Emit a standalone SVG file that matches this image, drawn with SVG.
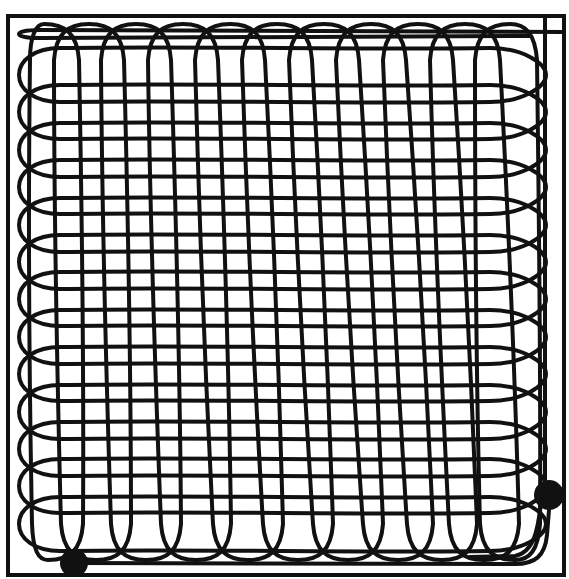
<svg xmlns="http://www.w3.org/2000/svg" xmlns:xlink="http://www.w3.org/1999/xlink" width="569" height="579" viewBox="0 0 569 579">
<style>
.w{fill:none;stroke:#111;stroke-width:4;stroke-linejoin:round;stroke-linecap:round}
.f{fill:none;stroke:#111;stroke-width:4}
.d{fill:#111}
</style>
<defs>
<path id="h" class="w" d="M19,0 C19,-15 35,-27 60,-27 C200,-29 360,-25 490,-27 C522,-27 546,-12 546,0 C546,12 522,27 490,27 C360,29 200,25 60,27 C35,27 19,15 19,0Z"/>
</defs>
<rect width="569" height="579" fill="#fff"/>
<g id="frame">
<rect class="f" x="8" y="16" width="556" height="559"/>
</g>
<g id="horizontal-coil">
<path class="w" d="M564,32 L40,30 C24,30 19,32 19,34 C19,36 24,38 40,38 L530,36"/>
<use href="#h" xlink:href="#h" y="75"/>
<use href="#h" xlink:href="#h" y="112"/>
<use href="#h" xlink:href="#h" y="150"/>
<use href="#h" xlink:href="#h" y="187"/>
<use href="#h" xlink:href="#h" y="225"/>
<use href="#h" xlink:href="#h" y="262"/>
<use href="#h" xlink:href="#h" y="299"/>
<use href="#h" xlink:href="#h" y="337"/>
<use href="#h" xlink:href="#h" y="374"/>
<use href="#h" xlink:href="#h" y="412"/>
<use href="#h" xlink:href="#h" y="449"/>
<use href="#h" xlink:href="#h" y="486"/>
<use href="#h" xlink:href="#h" y="524"/>
</g>
<g id="vertical-coil">
<path class="w" d="M44,24 C66,24 77,34 79,60 C82,215 84,370 83,524 C81,550 70,560 48,560 C38,560 33,550 32,524 C29,370 28,215 30,60 C30,36 36,24 44,24Z"/>
<path class="w" d="M89,24 C111,24 122,34 124,60 C128,215 131,370 131,524 C129,550 118,560 96,560 C74,560 63,550 61,524 C57,370 54,215 54,60 C56,34 67,24 89,24Z"/>
<path class="w" d="M136,24 C158,24 169,34 171,60 C176,215 180,370 181,524 C179,550 168,560 146,560 C124,560 113,550 111,524 C106,370 102,215 101,60 C103,34 114,24 136,24Z"/>
<path class="w" d="M183,24 C205,24 216,34 218,60 C224,215 229,370 231,524 C229,550 218,560 196,560 C174,560 163,550 161,524 C155,370 150,215 148,60 C150,34 161,24 183,24Z"/>
<path class="w" d="M230,24 C252,24 263,34 265,60 C273,215 279,370 283,524 C281,550 270,560 248,560 C226,560 215,550 213,524 C205,370 199,215 195,60 C197,34 208,24 230,24Z"/>
<path class="w" d="M277,24 C299,24 310,34 312,60 C321,215 328,370 333,524 C331,550 320,560 298,560 C276,560 265,550 263,524 C254,370 247,215 242,60 C244,34 255,24 277,24Z"/>
<path class="w" d="M324,24 C346,24 357,34 359,60 C369,215 377,370 383,524 C381,550 370,560 348,560 C326,560 315,550 313,524 C303,370 295,215 289,60 C291,34 302,24 324,24Z"/>
<path class="w" d="M371,24 C393,24 404,34 406,60 C417,215 426,370 433,524 C431,550 420,560 398,560 C376,560 365,550 363,524 C352,370 343,215 336,60 C338,34 349,24 371,24Z"/>
<path class="w" d="M418,24 C440,24 451,34 453,60 C463,215 471,370 477,524 C475,550 464,560 442,560 C420,560 409,550 407,524 C397,370 389,215 383,60 C385,34 396,24 418,24Z"/>
<path class="w" d="M465,24 C487,24 498,34 500,60 C508,215 515,370 519,524 C517,550 506,560 484,560 C462,560 451,550 449,524 C441,370 434,215 430,60 C432,34 443,24 465,24Z"/>
<path class="w" d="M510,24 C526,24 535,34 537,60 C539,215 541,370 540,524 C538,550 530,560 515,560 C493,560 482,550 480,524 C476,370 475,215 475,60 C477,34 488,24 510,24Z"/>
</g>
<g id="leads">
<path class="w" d="M545,17 L545,484"/>
<path class="w" d="M74,563 L515,564 C535,564 545,556 547,535 L549,510"/>
<path class="w" d="M541,502 C538,530 534,552 515,556 L470,557"/>
</g>
<g id="terminal-left"><circle class="d" cx="74" cy="563" r="14"/></g>
<g id="terminal-right"><circle class="d" cx="549" cy="495" r="15"/></g>
</svg>
